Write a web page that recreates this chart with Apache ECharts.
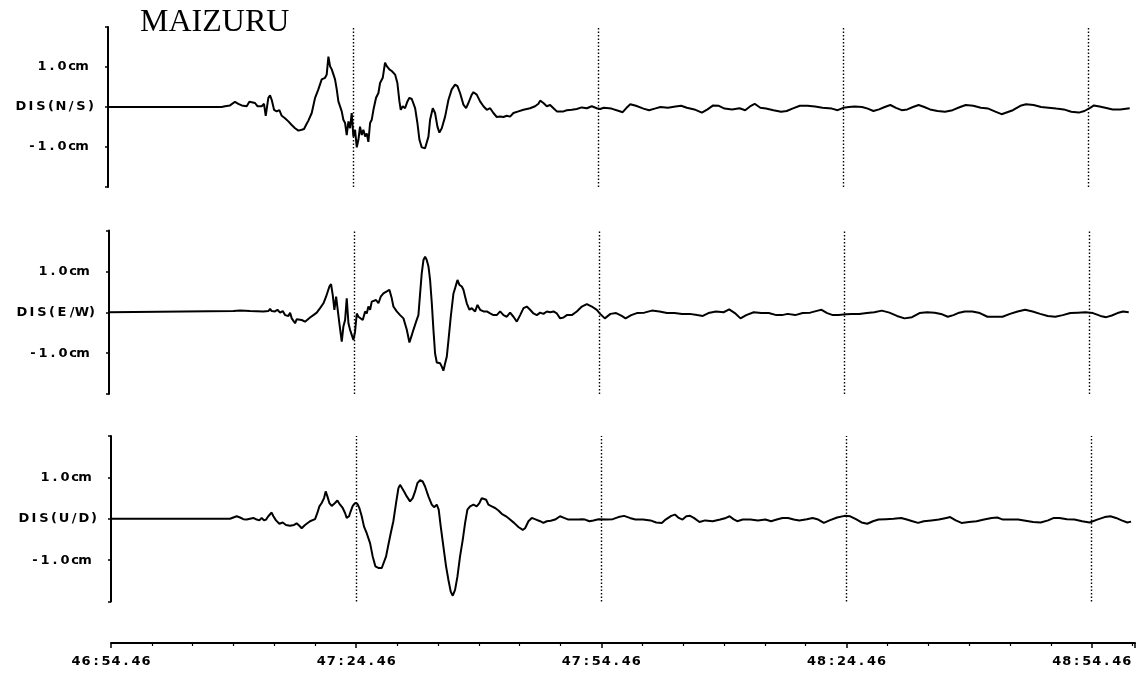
<!DOCTYPE html>
<html>
<head>
<meta charset="utf-8">
<title>MAIZURU</title>
<script src="https://cdn.jsdelivr.net/npm/echarts@6/dist/echarts.min.js"></script>
<style>
  html, body { margin: 0; padding: 0; background: #fff; }
  #chart { width: 1142px; height: 678px; }
</style>
</head>
<body>
<div id="chart"></div>
<script>
// Station and channel names
const stationName = 'MAIZURU';
const channelLabels = ['DIS(N/S)', 'DIS(E/W)', 'DIS(U/D)'];
// Amplitude tick labels (cm)
const ampTickLabels = { '1': '1.0cm', '-1': '-1.0cm' };
// Time ticks: seconds after 46:54.46, and their clock labels
const timeTicks = [0, 30, 60, 90, 120];
const timeTickLabels = ['46:54.46', '47:24.46', '47:54.46', '48:24.46', '48:54.46'];

// Displacement traces: [seconds after 46:54.46, displacement in cm]
const nsTrace = [
  [0,0],[13.9,0],[14.32,0.02],[14.93,0.04],[15.54,0.13],[15.95,0.08],[16.36,0.04],[16.97,0.02],[17.30,0.13],[17.58,0.12],[17.79,0.13],[17.99,0.10],[18.28,0.02],[18.52,0.06],[18.81,0.02],[19.09,0.08],[19.30,-0.22],[19.62,0.23],[19.83,0.29],[20.03,0.18],[20.32,-0.07],[20.64,-0.11],[20.97,-0.08],[21.26,-0.22],[21.66,-0.28],[22.07,-0.36],[22.48,-0.45],[22.89,-0.53],[23.30,-0.59],[23.70,-0.57],[23.99,-0.55],[24.23,-0.45],[24.52,-0.34],[24.93,-0.15],[25.34,0.23],[25.74,0.44],[26.15,0.69],[26.56,0.73],[26.76,0.81],[26.97,1.26],[27.17,1.02],[27.38,0.94],[27.58,0.98],[27.78,0.69],[27.99,0.44],[28.19,0.14],[28.40,0.10],[28.60,-0.11],[28.80,-0.32],[29.01,-0.40],[29.21,-0.70],[29.42,-0.36],[29.62,-0.53],[29.82,-0.15],[30.03,-0.74],[30.23,-0.57],[30.44,-1.01],[30.64,-0.82],[30.84,-0.49],[31.05,-0.70],[31.25,-0.57],[31.46,-0.74],[31.66,-0.66],[31.86,-0.87],[32.07,-0.40],[32.27,-0.32],[32.48,-0.07],[32.80,0.23],[33.09,0.35],[33.29,0.60],[33.62,0.73],[33.90,1.11],[34.11,1.02],[34.43,0.94],[34.72,0.90],[35.13,0.81],[35.41,0.60],[35.66,0.14],[35.82,-0.07],[36.07,0.02],[36.35,-0.03],[36.64,0.14],[36.88,0.23],[37.17,0.20],[37.58,-0.03],[37.86,-0.40],[38.11,-0.82],[38.39,-1.01],[38.80,-1.03],[39.00,-1.01],[39.21,-0.74],[39.41,-0.32],[39.74,-0.03],[40.02,-0.15],[40.31,-0.49],[40.55,-0.64],[40.84,-0.53],[41.25,-0.24],[41.66,0.18],[42.06,0.44],[42.47,0.56],[42.76,0.52],[43.08,0.35],[43.49,0.06],[43.82,-0.03],[44.10,0.10],[44.51,0.31],[44.72,0.37],[45.12,0.31],[45.53,0.14],[45.94,0.02],[46.35,-0.07],[46.76,-0.03],[47.16,-0.15],[47.57,-0.25],[47.98,-0.24],[48.39,-0.25],[48.80,-0.22],[49.20,-0.24],[49.61,-0.15],[50.22,-0.11],[50.84,-0.07],[51.65,-0.03],[52.26,0.02],[52.67,0.08],[52.88,0.16],[53.28,0.10],[53.69,0.02],[54.10,0.05],[54.51,-0.03],[54.92,-0.11],[55.32,-0.11],[55.73,-0.11],[56.14,-0.08],[56.75,-0.07],[57.36,-0.05],[57.97,-0.01],[58.59,-0.03],[59.20,0.02],[59.81,-0.03],[60.22,-0.05],
  [60.68,-0.02],[61.60,-0.04],[62.52,-0.10],[62.98,-0.13],[63.45,-0.02],[63.91,0.07],[64.60,0.03],[65.52,-0.04],[66.21,-0.08],[66.90,-0.04],[67.60,0],[68.52,-0.02],[69.44,0.01],[70.13,0.03],[70.83,-0.02],[71.75,-0.06],[72.67,-0.14],[73.36,-0.06],[74.05,0.04],[74.75,0.03],[75.44,-0.04],[76.36,-0.06],[77.28,-0.03],[77.97,-0.08],[78.67,0.03],[79.13,0.08],[79.82,-0.02],[80.51,-0.04],[81.43,-0.08],[82.36,-0.12],[83.05,-0.10],[83.74,-0.04],[84.66,0.03],[85.59,0.03],[86.51,0.01],[87.43,-0.02],[88.58,-0.04],[89.28,-0.08],[89.97,-0.02],[90.66,0],[91.35,0.01],[92.27,0],[92.97,-0.04],[93.66,-0.10],[94.35,-0.06],[95.04,0],[95.73,0.05],[96.42,-0.02],[97.12,-0.08],[97.81,-0.06],[98.50,0],[99.19,0.05],[99.88,0],[100.58,-0.06],[101.50,-0.10],[102.42,-0.12],[103.34,-0.08],[104.27,0],[104.96,0.05],[105.88,0.03],[106.80,-0.02],[107.72,-0.04],[108.65,-0.12],[109.34,-0.18],[110.03,-0.13],[110.72,-0.08],[111.64,0.03],[112.34,0.07],[113.26,0.05],[114.18,0],[115.10,-0.02],[116.02,-0.04],[116.95,-0.06],[117.87,-0.12],[118.79,-0.14],[119.48,-0.10],[120.18,-0.02],[120.64,0.04],[121.33,0.01],[122.02,-0.02],[122.94,-0.06],[123.87,-0.06],[125.02,-0.03]
];

const ewTrace = [
  [0,0],[15.22,0.03],[16.04,0.04],[17.26,0.03],[18.89,0.02],[19.50,0.03],[19.71,0.08],[19.91,0.03],[20.32,0.02],[20.61,0.06],[20.93,-0.01],[21.26,0.03],[21.54,-0.07],[21.75,-0.03],[21.95,-0.09],[22.16,-0.01],[22.36,-0.15],[22.56,-0.11],[22.77,-0.27],[22.97,-0.17],[23.18,-0.15],[23.58,-0.19],[23.99,-0.23],[24.20,-0.19],[24.60,-0.13],[25.01,-0.07],[25.42,-0.01],[25.83,0.10],[26.24,0.22],[26.56,0.38],[26.73,0.34],[26.97,0.63],[27.17,0.69],[27.38,0.42],[27.58,0.06],[27.79,0.38],[27.95,0.42],[28.19,-0.27],[28.48,-0.72],[28.68,-0.35],[28.89,-0.19],[29.09,0.34],[29.30,-0.27],[29.50,-0.43],[29.70,-0.39],[29.91,-0.68],[30.11,-0.47],[30.32,-0.03],[30.52,-0.11],[30.72,-0.07],[31.05,-0.19],[31.34,0.02],[31.54,-0.03],[31.74,0.14],[31.95,0.06],[32.15,0.26],[32.36,0.22],[32.68,0.30],[32.97,0.22],[33.25,0.38],[33.58,0.46],[33.99,0.51],[34.31,0.55],[34.60,0.34],[34.80,0.14],[35.21,0.02],[35.62,-0.07],[36.03,-0.15],[36.44,-0.43],[36.76,-0.74],[37.05,-0.56],[37.25,-0.43],[37.58,-0.23],[37.86,-0.07],[38.07,0.46],[38.27,0.96],[38.48,1.28],[38.68,1.36],[38.88,1.28],[39.09,1.12],[39.29,0.79],[39.50,0.22],[39.70,-0.43],[39.90,-1.01],[40.11,-1.23],[40.52,-1.25],[40.72,-1.33],[40.92,-1.43],[41.13,-1.25],[41.33,-1.09],[41.54,-0.68],[41.82,-0.11],[42.15,0.46],[42.35,0.59],[42.64,0.79],[42.88,0.67],[43.17,0.63],[43.37,0.55],[43.58,0.38],[43.78,0.22],[44.11,0.06],[44.39,0.10],[44.80,0.02],[45.09,0.18],[45.41,0.06],[45.82,0.02],[46.23,0.02],[46.64,-0.03],[47.04,-0.07],[47.45,-0.07],[47.86,0.02],[48.27,-0.07],[48.68,-0.11],[49.08,-0.01],[49.49,-0.11],[49.90,-0.23],[50.31,-0.07],[50.72,0.10],[51.12,0.14],[51.53,0.06],[51.94,-0.03],[52.35,-0.07],[52.76,-0.01],[53.16,-0.04],[53.57,0.02],[53.98,0],[54.39,0.02],[54.80,-0.03],[55.20,-0.15],[55.61,-0.13],[56.02,-0.07],[56.63,-0.07],[57.24,0.02],[57.86,0.14],[58.47,0.20],[59.08,0.14],[59.69,0.06],[60.10,-0.04],
  [60.67,-0.15],[61.36,-0.04],[62.05,-0.02],[62.74,-0.09],[63.21,-0.15],[63.90,-0.07],[64.59,-0.02],[65.51,-0.01],[66.43,0.04],[67.36,0.02],[68.28,-0.02],[69.20,-0.02],[70.12,-0.04],[71.05,-0.04],[71.97,-0.07],[72.66,-0.09],[73.35,-0.02],[74.28,0.02],[75.20,0],[75.89,0.07],[76.58,-0.02],[77.27,-0.15],[77.97,-0.07],[78.89,0],[79.81,-0.02],[80.73,-0.02],[81.66,-0.07],[82.35,-0.07],[83.04,-0.04],[83.96,-0.07],[84.88,-0.02],[85.81,-0.01],[86.73,0.04],[87.19,0.06],[87.88,-0.02],[88.57,-0.07],[89.27,-0.07],[90.19,-0.05],[90.88,-0.04],[91.80,-0.04],[92.73,-0.02],[93.65,0],[94.57,0.04],[95.49,-0.01],[96.42,-0.09],[97.34,-0.15],[98.26,-0.12],[99.18,-0.02],[100.11,0],[101.03,-0.01],[101.95,-0.05],[102.64,-0.11],[103.33,-0.07],[104.03,-0.01],[104.72,0.02],[105.64,0.02],[106.56,-0.02],[107.49,-0.11],[108.41,-0.11],[109.33,-0.11],[110.25,-0.04],[111.18,0.02],[112.10,0.06],[113.02,0.02],[113.94,-0.04],[114.87,-0.09],[115.79,-0.11],[116.71,-0.07],[117.63,-0.02],[118.56,-0.01],[119.48,0],[120.40,-0.02],[121.32,-0.09],[122.02,-0.12],[122.71,-0.08],[123.40,-0.02],[124.09,0.02],[124.78,0]
];

const udTrace = [
  [0,0],[14.56,0],[14.97,0.03],[15.38,0.06],[15.79,0.03],[16.19,-0.01],[16.60,-0.02],[17.01,0],[17.42,0.02],[17.83,-0.02],[18.15,-0.04],[18.44,0.02],[18.72,-0.04],[18.97,-0.02],[19.25,0.06],[19.46,0.10],[19.66,0.15],[19.87,0.06],[20.19,-0.04],[20.60,-0.12],[21.01,-0.09],[21.42,-0.15],[21.91,-0.17],[22.40,-0.15],[22.72,-0.11],[23.05,-0.17],[23.33,-0.23],[23.74,-0.15],[24.35,-0.06],[24.97,-0.01],[25.25,0.14],[25.50,0.30],[25.78,0.38],[26.07,0.50],[26.27,0.66],[26.48,0.54],[26.72,0.38],[27.01,0.31],[27.41,0.38],[27.70,0.44],[28.03,0.34],[28.35,0.26],[28.64,0.14],[28.84,0.02],[29.13,0.06],[29.33,0.18],[29.58,0.31],[29.86,0.38],[30.15,0.36],[30.39,0.26],[30.68,0.06],[30.96,-0.19],[31.29,-0.35],[31.70,-0.59],[32.02,-0.91],[32.35,-1.15],[32.72,-1.19],[33.13,-1.19],[33.33,-1.15],[33.66,-0.91],[33.94,-0.63],[34.23,-0.35],[34.55,-0.06],[34.88,0.38],[35.17,0.74],[35.37,0.82],[35.57,0.78],[35.86,0.66],[36.19,0.54],[36.59,0.42],[36.92,0.50],[37.21,0.66],[37.49,0.86],[37.82,0.93],[38.14,0.90],[38.43,0.78],[38.84,0.54],[39.25,0.34],[39.53,0.28],[39.86,0.34],[40.10,0.22],[40.35,-0.19],[40.67,-0.67],[41.00,-1.15],[41.29,-1.48],[41.57,-1.76],[41.82,-1.86],[42.10,-1.72],[42.39,-1.40],[42.71,-0.91],[43.04,-0.51],[43.33,-0.10],[43.61,0.22],[43.94,0.30],[44.35,0.34],[44.75,0.30],[45.08,0.38],[45.37,0.50],[45.57,0.54],[45.90,0.46],[46.18,0.34],[46.59,0.30],[47.00,0.26],[47.41,0.20],[47.81,0.12],[48.34,0.06],[48.83,-0.02],[49.32,-0.10],[49.85,-0.20],[50.38,-0.27],[50.67,-0.23],[51.08,-0.06],[51.49,0.02],[52.02,-0.02],[52.51,-0.06],[52.91,-0.10],[53.32,-0.06],[53.81,-0.05],[54.34,-0.02],[54.95,0.06],[55.44,0.02],[55.97,-0.02],[56.59,-0.02],[57.20,-0.02],[57.61,-0.01],[58.01,-0.02],[58.54,-0.06],[59.03,-0.04],[59.65,-0.01],[59.85,0],
  [60.71,-0.02],[61.40,-0.01],[62.09,0.04],[62.78,0.07],[63.48,0.02],[64.17,-0.02],[65.09,-0.02],[66.01,-0.04],[66.71,-0.09],[67.40,-0.10],[67.86,-0.02],[68.55,0.07],[69.01,0.10],[69.47,0.02],[69.93,-0.02],[70.40,0.06],[70.86,0.07],[71.32,0.02],[72.01,-0.08],[72.70,-0.04],[73.62,-0.06],[74.55,-0.02],[75.24,0.02],[75.70,0.06],[76.16,-0.01],[76.62,-0.06],[77.31,-0.02],[78.24,-0.02],[79.16,-0.04],[80.08,-0.02],[80.77,-0.06],[81.46,-0.02],[82.16,0.02],[82.85,0.02],[83.54,-0.02],[84.23,-0.04],[85.15,-0.01],[85.85,0.02],[86.54,-0.02],[87.23,-0.10],[87.92,-0.04],[88.85,0.03],[89.77,0.07],[90.46,0.06],[91.15,-0.01],[91.84,-0.09],[92.54,-0.12],[93.23,-0.06],[93.92,-0.02],[94.84,-0.01],[95.76,0],[96.69,0.02],[97.38,-0.02],[98.07,-0.06],[98.76,-0.10],[99.45,-0.06],[100.38,-0.04],[101.30,-0.02],[102.22,0.02],[102.68,0.04],[103.37,-0.04],[104.07,-0.10],[104.99,-0.08],[105.91,-0.06],[106.83,-0.02],[107.76,0.02],[108.45,0.03],[109.14,-0.02],[110.06,-0.02],[110.99,-0.02],[111.91,-0.05],[112.83,-0.08],[113.75,-0.09],[114.67,-0.04],[115.37,0.02],[116.06,0.02],[116.98,-0.01],[117.90,-0.02],[118.83,-0.06],[119.75,-0.09],[120.67,-0.02],[121.59,0.04],[122.29,0.06],[122.98,0.02],[123.67,-0.04],[124.36,-0.09],[124.82,-0.07]
];

const traces = [nsTrace, ewTrace, udTrace];
// Guide times drawn as dotted verticals in every panel
const guideTimes = [30, 60, 90, 120];

// Panel boxes (pixels): the three traces stacked vertically
const panels = [
  { left: 108, top: 27,    height: 160 },
  { left: 109, top: 230.5, height: 163.5 },
  { left: 111, top: 436,   height: 165.5 }
];
const plotWidth = 1024;
const timeMax = 125.3;

const FONT = '"DejaVu Sans", "Liberation Sans", sans-serif';
// Print-style spaced lettering: each character sits in its own fixed cell
function spaced(str) {
  return str.split('').map(function (ch) { return '{c|' + ch + '}'; }).join('');
}
const cellRich = {
  c: { width: 10, align: 'center', fontSize: 13, fontWeight: 'bold', fontFamily: FONT, color: '#000' },
  sp: { width: 9, align: 'center', fontSize: 13 }
};

const grids = panels.map(function (p) {
  return { left: p.left, top: p.top, width: plotWidth, height: p.height, containLabel: false };
});

const xAxes = panels.map(function (p, i) {
  const isBottom = i === panels.length - 1;
  return {
    type: 'value',
    gridIndex: i,
    min: 0,
    max: timeMax,
    interval: 30,
    position: 'bottom',
    offset: isBottom ? 41.5 : 0,
    axisLine: { show: isBottom, onZero: false, lineStyle: { color: '#000', width: 2 } },
    axisTick: { show: isBottom, length: 5, lineStyle: { color: '#000', width: 1.5 } },
    minorTick: { show: isBottom, splitNumber: 6, length: 3, lineStyle: { color: '#000', width: 1.2 } },
    splitLine: { show: false },
    minorSplitLine: { show: false },
    axisLabel: {
      show: isBottom,
      margin: 12,
      showMinLabel: true,
      showMaxLabel: false,
      hideOverlap: false,
      formatter: function (v) {
        const k = timeTicks.indexOf(Math.round(v * 100) / 100);
        return k >= 0 ? spaced(timeTickLabels[k]) : '';
      },
      rich: cellRich
    }
  };
});

const yAxes = panels.map(function (p, i) {
  return {
    type: 'value',
    gridIndex: i,
    min: -2,
    max: 2,
    interval: 1,
    position: 'left',
    axisLine: { show: true, onZero: false, lineStyle: { color: '#000', width: 2 } },
    axisTick: { show: true, length: 3, lineStyle: { color: '#000', width: 1.5 } },
    splitLine: { show: false },
    axisLabel: {
      show: true,
      margin: 12,
      showMinLabel: true,
      showMaxLabel: true,
      hideOverlap: false,
      formatter: function (v) {
        if (v === 0) return spaced(channelLabels[i]);
        const t = ampTickLabels[String(v)];
        return t ? spaced(t) + '{sp| }' : '';
      },
      rich: cellRich
    }
  };
});

const series = traces.map(function (data, i) {
  return {
    type: 'line',
    xAxisIndex: i,
    yAxisIndex: i,
    data: data,
    showSymbol: false,
    symbol: 'none',
    smooth: false,
    lineStyle: { color: '#000', width: 2 },
    emphasis: { disabled: true },
    markLine: {
      silent: true,
      symbol: ['none', 'none'],
      label: { show: false },
      lineStyle: { color: '#000', width: 1.4, type: [1.5, 2] },
      emphasis: { disabled: true },
      data: guideTimes.map(function (t) { return { xAxis: t }; })
    }
  };
});

const chart = echarts.init(document.getElementById('chart'), null, { renderer: 'canvas' });
chart.setOption({
  backgroundColor: '#fff',
  animation: false,
  title: {
    text: stationName,
    left: 135,
    top: 2,
    textStyle: { fontFamily: '"Liberation Serif", "DejaVu Serif", serif', fontSize: 32, fontWeight: 'normal', color: '#000' }
  },
  grid: grids,
  xAxis: xAxes,
  yAxis: yAxes,
  series: series
});
</script>
</body>
</html>
